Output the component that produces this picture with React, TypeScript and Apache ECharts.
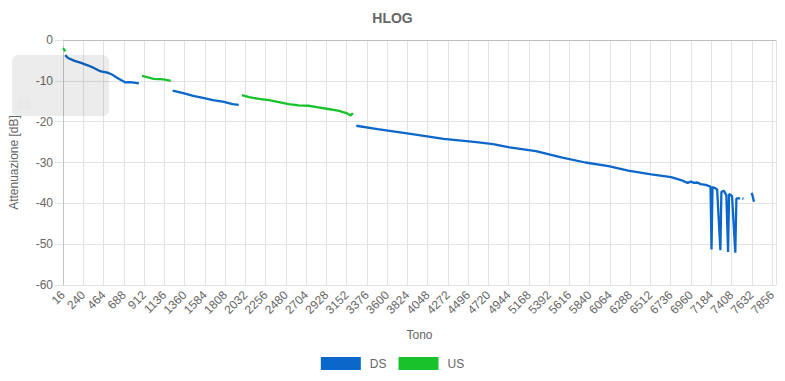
import React, { useEffect, useRef } from "react";
import * as echarts from "echarts";

// Tone / attenuation (dB), per contiguous segment
const usSeg1Tones = [16, 28, 41];
const usSeg1Values = [-2.0, -2.3, -2.8];

const dsSeg1Tones = [41, 71, 144, 216, 289, 362, 435, 508, 563, 617, 672, 708, 763, 855];
const dsSeg1Values = [-3.7, -4.4, -5.1, -5.6, -6.2, -6.9, -7.7, -8.0, -8.5, -9.3, -10.0, -10.4, -10.3, -10.6];

const usSeg2Tones = [891, 945, 1018, 1091, 1145, 1208];
const usSeg2Values = [-8.8, -9.1, -9.5, -9.6, -9.7, -10.0];

const dsSeg2Tones = [1229, 1346, 1455, 1564, 1674, 1783, 1892, 1959];
const dsSeg2Values = [-12.4, -13.0, -13.7, -14.2, -14.7, -15.1, -15.7, -15.9];

const usSeg3Tones = [1995, 2074, 2184, 2293, 2402, 2512, 2621, 2730, 2839, 2949, 3058, 3150, 3197, 3211, 3222];
const usSeg3Values = [-13.5, -14.0, -14.4, -14.7, -15.2, -15.7, -16.0, -16.1, -16.5, -16.9, -17.3, -17.9, -18.5, -18.0, -18.3];

const dsSeg3Tones = [
  3259, 3495, 3860, 4225, 4589, 4771, 4954, 5245, 5537, 5792, 6048, 6266, 6521, 6740,
  6849, 6922, 6958, 6994, 7031, 7067, 7122, 7176, 7187, 7198, 7230, 7249, 7285, 7296,
  7322, 7351, 7370, 7381, 7414, 7450, 7462, 7504,
];
const dsSeg3Values = [
  -21.0, -21.8, -23.0, -24.2, -25.0, -25.5, -26.3, -27.2, -28.8, -30.0, -30.9, -32.0, -32.9, -33.6,
  -34.3, -35.0, -34.7, -35.0, -34.9, -35.3, -35.5, -35.9, -51.3, -36.0, -36.3, -36.6, -51.5, -37.2,
  -36.9, -38.0, -51.9, -37.7, -38.2, -52.1, -38.8, -38.8,
];

const dsSeg4Tones = [7528, 7540];
const dsSeg4Values = [-38.8, -38.9];

const dsSeg5Tones = [7632, 7657];
const dsSeg5Values = [-37.4, -39.6];

const legendNames = ["DS", "US"];
const DS_COLOR = "#0b67c9";
const US_COLOR = "#17c22b";

const FONT = "'Liberation Sans', Arial, Helvetica, sans-serif";

function pairs(t: number[], v: number[]) {
  return t.map((x, i) => [x, v[i]]);
}

export default function App() {
  const ref = useRef<HTMLDivElement>(null);

  useEffect(() => {
    if (!ref.current) return;
    const chart = echarts.init(ref.current, undefined, { renderer: "svg" });

    const seg = (name: string, color: string, t: number[], v: number[], extra: any = {}) => ({
      name,
      type: "line",
      data: pairs(t, v),
      showSymbol: false,
      symbol: "none",
      lineStyle: { color, width: 2.3 },
      itemStyle: { color },
      z: 3,
      ...extra,
    });

    chart.setOption({
      animation: false,
      textStyle: { fontFamily: FONT },
      title: {
        text: "HLOG",
        left: "center",
        top: 11,
        padding: 0,
        textStyle: { fontFamily: FONT, fontSize: 14, fontWeight: "bold", color: "#666" },
      },
      legend: {
        data: legendNames.map((n) => ({ name: n, icon: "rect" })),
        bottom: 6,
        left: "center",
        itemWidth: 40,
        itemHeight: 13,
        itemGap: 12,
        textStyle: { fontFamily: FONT, fontSize: 12, color: "#666", padding: [0, 0, 0, 4] },
      },
      grid: { left: 55, right: 9, top: 40, bottom: 96 },
      xAxis: {
        type: "value",
        min: 16,
        max: 7900,
        interval: 224,
        name: "Tono",
        nameLocation: "middle",
        nameGap: 44,
        nameTextStyle: { fontFamily: FONT, fontSize: 12, color: "#666" },
        axisLine: { show: true, lineStyle: { color: "#c4c4c4" } },
        axisTick: { show: true, length: 6, lineStyle: { color: "#e2e2e2" } },
        axisLabel: {
          rotate: 45,
          fontSize: 12,
          color: "#666",
          margin: 8,
          showMaxLabel: false,
          formatter: (v: number) => ((v - 16) % 224 === 0 ? String(v) : ""),
        },
        splitLine: { show: true, lineStyle: { color: "#e2e2e2" } },
      },
      yAxis: {
        type: "value",
        min: -60,
        max: 0,
        interval: 10,
        name: "Attenuazione [dB]",
        nameLocation: "middle",
        nameGap: 43,
        nameTextStyle: { fontFamily: FONT, fontSize: 12, color: "#666" },
        axisLine: { show: true, lineStyle: { color: "#c4c4c4" } },
        axisTick: { show: true, length: 8, lineStyle: { color: "#e2e2e2" } },
        axisLabel: { fontSize: 12, color: "#666", margin: 10 },
        splitLine: { show: true, lineStyle: { color: "#e2e2e2" } },
      },
      graphic: [
        {
          type: "rect",
          shape: { x: 12, y: 55, width: 97, height: 61, r: 6 },
          style: { fill: "rgba(0,0,0,0.075)" },
          z: 10,
        },
        {
          type: "rect",
          shape: { x: 17, y: 97, width: 14, height: 13 },
          style: { fill: "rgba(0,0,0,0.012)" },
          z: 11,
        },
      ],
      series: [
        seg("DS", DS_COLOR, dsSeg1Tones, dsSeg1Values, {
          markLine: {
            silent: true,
            symbol: "none",
            label: { show: false },
            lineStyle: { color: "#bdbdbd", width: 1, type: "solid" },
            data: [{ yAxis: 0 }],
          },
        }),
        seg("DS", DS_COLOR, dsSeg2Tones, dsSeg2Values),
        seg("DS", DS_COLOR, dsSeg3Tones, dsSeg3Values),
        seg("DS", DS_COLOR, dsSeg4Tones, dsSeg4Values),
        seg("DS", DS_COLOR, dsSeg5Tones, dsSeg5Values),
        seg("US", US_COLOR, usSeg1Tones, usSeg1Values),
        seg("US", US_COLOR, usSeg2Tones, usSeg2Values),
        seg("US", US_COLOR, usSeg3Tones, usSeg3Values),
      ],
    });

    return () => chart.dispose();
  }, []);

  return (
    <div
      ref={ref}
      style={{ position: "absolute", left: 0, top: 0, width: 785, height: 381 }}
    />
  );
}
